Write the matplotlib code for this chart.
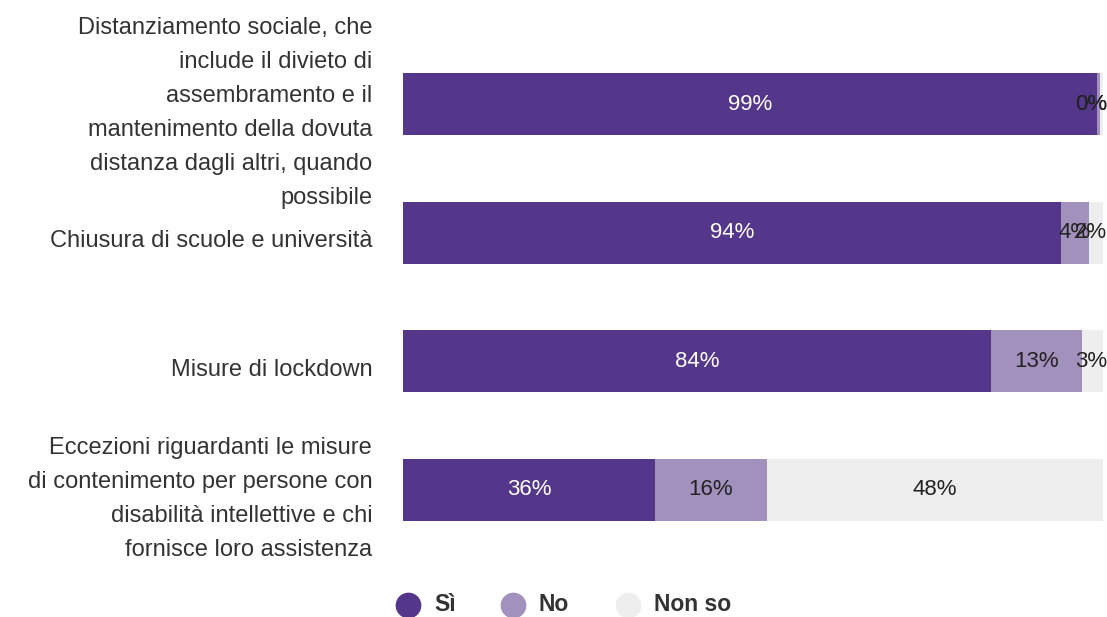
import matplotlib.pyplot as plt
from matplotlib.lines import Line2D
from matplotlib.transforms import Bbox, TransformedBbox

plt.rcParams['font.family'] = ['Liberation Sans', 'DejaVu Sans']

categories = [
    "Distanziamento sociale, che\ninclude il divieto di\nassembramento e il\nmantenimento della dovuta\ndistanza dagli altri, quando\npossibile",
    "Chiusura di scuole e università",
    "Misure di lockdown",
    "Eccezioni riguardanti le misure\ndi contenimento per persone con\ndisabilità intellettive e chi\nfornisce loro assistenza",
]
si = [99.2, 94, 84, 36]
no = [0.4, 4, 13, 16]
non_so = [0.4, 2, 3, 48]
series_names = ["Sì", "No", "Non so"]
colors = ["#54378A", "#A291BD", "#EEEEEE"]
text_colors = ["white", "#222222", "#222222"]

W, H = 1107, 617
fig = plt.figure(figsize=(W / 100, H / 100), dpi=100)
ax = fig.add_axes([403 / W, 1 - 554.3 / H, 700 / W, 514.6 / H])

ypos = list(range(len(categories)))
left = [0] * len(categories)
for vals, col, tcol in zip([si, no, non_so], colors, text_colors):
    ax.barh(ypos, vals, left=left, height=0.48, color=col)
    for y, v, l in zip(ypos, vals, left):
        # keep small-segment labels inside the plot area
        x = min(l + v / 2, 98.3)
        ax.text(x, y, f"{round(v)}%", ha="center", va="center",
                fontsize=16, color=tcol)
    left = [l + v for l, v in zip(left, vals)]

ax.set_xlim(0, 100)
ax.set_ylim(3.5, -0.5)
ax.set_xticks([])
ax.set_yticks([])
for s in ax.spines.values():
    s.set_visible(False)

# category labels, right aligned next to the bars; the label area is
# cut off a little below the top edge
label_clip = TransformedBbox(Bbox([[0, 0], [403 / W, 1 - 17 / H]]),
                             fig.transFigure)
for y, cat in zip(ypos, categories):
    t = ax.text(-4.4, y + 0.068, cat, ha="right", va="center", fontsize=17,
                color="#333333", linespacing=1.7)
    t.set_clip_box(label_clip)
    t.set_clip_on(True)

# legend drawn by hand along the bottom
leg_x = [408, 513, 628]
leg_y = 1 - 604.5 / H
for x, name, c in zip(leg_x, series_names, colors):
    fig.add_artist(Line2D([x / W], [leg_y], marker="o", markersize=17.5,
                          markerfacecolor=c, markeredgecolor=c,
                          linestyle="", transform=fig.transFigure))
    fig.text((x + 26) / W, leg_y, name, ha="left", va="center",
             fontsize=16.5, fontweight="bold", color="#333333")

fig.savefig("out.png", dpi=100)
